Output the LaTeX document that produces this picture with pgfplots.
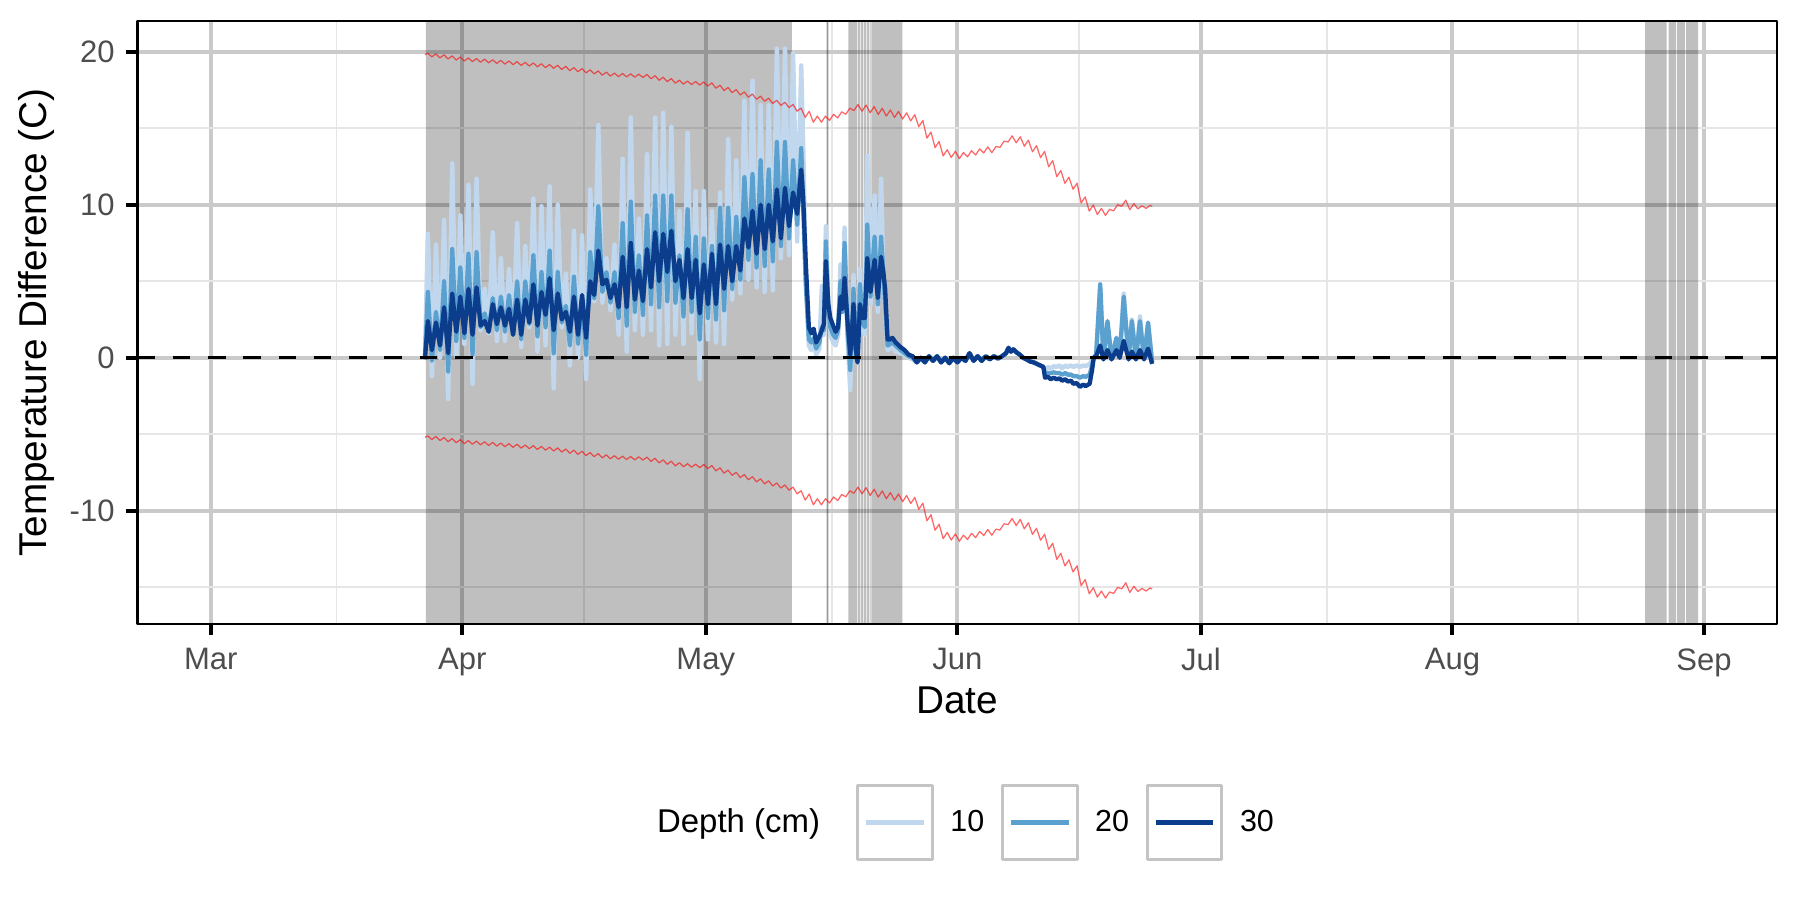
\documentclass[border=0pt]{standalone}
\usepackage{pgfplots}
\pgfplotsset{compat=1.18}
\usepackage{pgfplotstable}
\usepackage{fontspec}
\setmainfont{Liberation Sans}
\definecolor{cten}{HTML}{C1D7EE}
\definecolor{ctwenty}{HTML}{5BA1D0}
\definecolor{cthirty}{HTML}{0C3D8C}
\definecolor{gridmaj}{HTML}{CACACA}
\definecolor{gridmin}{HTML}{E6E6E6}
\definecolor{ticklab}{HTML}{4D4D4D}
\definecolor{keyborder}{HTML}{C4C4C4}

% days since 1 March; columns: 10 cm, 20 cm, 30 cm
\pgfplotstableread{
d L M D
26.40 0.0 0.0 -0.1
26.76 8.1 4.3 2.4
27.26 -1.2 -0.2 0.5
27.76 7.4 3.0 2.3
28.26 0.0 0.5 0.8
28.76 9.0 5.0 3.3
29.26 -2.7 -0.9 0.3
29.76 12.7 7.1 4.2
30.26 0.1 1.1 1.7
30.76 9.3 5.9 4.0
31.26 0.9 1.3 1.6
31.76 11.3 6.8 4.5
32.26 -1.7 0.2 1.5
32.76 11.7 6.9 4.6
33.26 1.8 2.0 2.1
33.76 4.5 2.9 2.4
34.26 1.6 1.7 1.7
34.76 8.2 3.9 3.5
35.26 1.1 1.8 2.2
35.76 6.5 4.0 3.3
36.26 1.1 1.7 2.1
36.76 5.8 4.1 3.2
37.26 1.6 1.5 1.5
37.76 8.8 5.0 3.8
38.26 0.7 1.2 1.5
38.76 7.3 5.0 3.8
39.26 2.0 2.2 2.3
39.76 10.4 6.7 4.8
40.26 0.4 1.4 2.1
40.76 9.9 5.6 4.3
41.26 0.8 2.0 2.8
41.76 11.2 7.0 5.2
42.26 -2.0 0.3 1.8
42.76 10.0 5.6 4.2
43.26 2.0 2.3 2.5
43.76 5.5 3.4 3.0
44.26 -0.5 0.8 1.7
44.76 8.3 5.3 4.0
45.26 0.0 0.9 1.5
45.76 8.0 4.0 4.1
46.26 -1.4 0.2 1.3
46.76 11.0 6.9 5.0
47.26 3.7 3.9 4.1
47.76 15.2 9.9 7.0
48.26 3.6 4.3 4.8
48.76 6.5 5.6 5.1
49.26 3.1 3.6 3.9
49.76 7.4 5.6 4.8
50.26 1.5 2.6 3.3
50.76 13.0 8.8 6.6
51.26 0.4 2.1 3.3
51.76 15.7 10.2 7.5
52.26 1.8 3.0 3.8
52.76 9.1 6.7 5.7
53.26 1.5 2.8 3.7
53.76 13.3 9.3 7.1
54.26 1.8 3.5 4.6
54.76 15.7 10.6 8.2
55.26 0.8 3.3 5.0
55.76 16.0 10.6 8.1
56.26 0.9 3.7 5.6
56.76 15.1 10.6 8.3
57.26 1.5 3.6 5.0
57.76 9.6 6.7 6.4
58.26 0.9 2.7 3.9
58.76 14.7 9.7 7.1
59.26 1.6 3.0 3.9
59.76 10.9 7.9 6.4
60.26 -1.4 1.2 2.9
60.76 10.9 7.8 6.1
61.26 1.2 2.6 3.5
61.76 9.6 7.3 6.8
62.26 1.0 2.5 3.5
62.76 10.8 9.8 7.4
63.26 0.9 3.1 4.5
63.76 14.3 9.8 7.3
64.26 3.8 4.5 5.0
64.76 12.9 9.2 7.3
65.26 4.2 5.1 5.7
65.76 16.8 11.8 9.1
66.26 5.1 6.4 7.2
66.76 18.1 12.0 9.6
67.26 4.6 5.9 6.8
67.76 16.5 12.9 10.0
68.26 4.3 6.0 7.1
68.76 16.5 12.3 10.0
69.26 4.4 6.3 7.6
69.76 20.2 14.1 11.0
70.26 6.5 7.3 7.8
70.76 20.2 14.1 11.1
71.26 6.7 7.8 8.6
71.76 19.9 12.9 10.8
72.26 7.6 8.7 9.4
72.76 19.1 13.7 12.3
73.00 14.0 10.0 10.5
73.30 6.0 5.0 6.5
73.70 0.8 1.2 2.0
74.00 0.5 1.0 1.6
74.30 1.0 1.3 1.9
74.60 0.2 0.6 1.0
75.00 0.6 1.0 1.4
75.30 4.7 2.0 1.8
75.55 1.5 1.8 2.2
75.80 8.6 7.6 6.3
76.10 3.5 3.2 3.5
76.35 1.5 2.0 2.6
76.70 1.0 1.5 2.1
77.00 0.8 1.3 1.7
77.30 1.5 1.8 2.0
77.60 6.1 5.0 4.0
77.85 3.0 3.0 3.2
78.10 8.5 7.5 5.2
78.45 1.5 2.0 2.5
78.80 -2.1 -0.8 0.2
79.00 1.0 1.5 1.5
79.20 5.4 4.5 3.5
79.50 0.5 0.5 0.5
79.70 -0.3 -0.3 -0.3
80.00 5.8 4.8 3.5
80.30 2.0 2.3 2.6
80.60 1.5 2.0 2.6
80.90 13.2 8.7 6.5
81.30 3.5 4.0 4.3
81.80 10.6 7.9 6.4
82.20 3.0 3.5 3.9
82.60 11.7 7.9 6.6
82.90 5.0 5.5 5.5
83.10 3.0 3.5 4.5
83.40 0.5 0.8 1.2
83.70 0.6 0.9 1.2
84.00 0.7 1.0 1.3
84.40 0.4 0.8 1.0
85.00 0.3 0.5 0.7
85.50 0.2 0.3 0.5
86.00 0.0 0.1 0.2
86.50 -0.1 0.0 0.1
87.00 -0.3 -0.3 -0.3
87.50 0.0 0.0 0.0
88.00 -0.3 -0.3 -0.3
88.50 0.1 0.1 0.1
89.00 -0.2 -0.2 -0.2
89.50 0.1 0.1 0.1
90.00 -0.3 -0.3 -0.3
90.50 0.0 0.0 0.0
91.00 -0.35 -0.35 -0.35
91.50 0.0 0.0 0.0
92.00 -0.3 -0.3 -0.3
92.50 0.0 0.0 0.0
93.00 -0.2 -0.2 -0.2
93.50 0.3 0.3 0.3
94.00 -0.2 -0.2 -0.2
94.50 0.1 0.1 0.1
95.00 -0.2 -0.2 -0.2
95.50 0.1 0.1 0.1
96.00 -0.1 -0.1 -0.1
96.50 0.1 0.1 0.1
97.00 -0.05 -0.05 -0.05
97.50 0.1 0.1 0.1
98.00 0.3 0.3 0.3
98.30 0.65 0.65 0.65
98.60 0.4 0.4 0.4
98.90 0.55 0.55 0.55
99.30 0.35 0.35 0.35
99.70 0.2 0.2 0.2
100.10 0.0 0.0 0.0
100.50 -0.1 -0.1 -0.1
101.00 -0.25 -0.25 -0.25
101.40 -0.3 -0.3 -0.3
101.80 -0.4 -0.4 -0.4
102.20 -0.5 -0.5 -0.5
102.60 -0.6 -0.6 -0.6
102.80 -0.8 -1.1 -1.3
103.20 -0.6 -1.0 -1.25
103.50 -0.7 -1.0 -1.4
103.90 -0.55 -0.95 -1.3
104.20 -0.6 -1.0 -1.4
104.60 -0.5 -1.0 -1.35
104.90 -0.7 -1.1 -1.5
105.30 -0.5 -1.0 -1.4
105.60 -0.6 -1.1 -1.55
106.00 -0.5 -1.1 -1.5
106.30 -0.6 -1.2 -1.7
106.70 -0.5 -1.2 -1.65
107.10 -0.6 -1.3 -1.9
107.50 -0.5 -1.2 -1.75
107.80 -0.55 -1.25 -1.85
108.30 -0.4 -1.1 -1.7
108.60 -0.2 -0.5 -0.8
108.80 0.0 0.0 0.0
109.10 0.2 0.2 0.1
109.60 4.6 4.8 0.8
110.00 -0.1 -0.1 -0.1
110.50 2.2 2.4 0.5
111.00 -0.1 -0.1 -0.1
111.60 1.3 1.3 0.5
112.00 0.0 0.0 0.0
112.50 4.2 4.0 1.1
113.10 -0.1 -0.1 -0.1
113.50 2.5 2.4 0.4
114.00 -0.1 -0.1 -0.1
114.50 2.7 2.4 0.5
115.00 -0.1 -0.1 -0.1
115.50 2.2 2.3 0.6
116.00 -0.3 -0.3 -0.4
}\depthtab

% red limit lines: upper and lower
\pgfplotstableread{
d up lo
26.40 19.80 -5.20
26.75 19.90 -5.10
27.25 19.66 -5.34
27.75 19.86 -5.14
28.25 19.59 -5.41
28.75 19.79 -5.21
29.25 19.52 -5.48
29.75 19.72 -5.28
30.25 19.45 -5.55
30.75 19.65 -5.35
31.25 19.39 -5.61
31.75 19.59 -5.41
32.25 19.35 -5.65
32.75 19.55 -5.45
33.25 19.31 -5.69
33.75 19.51 -5.49
34.25 19.27 -5.73
34.75 19.47 -5.53
35.25 19.23 -5.77
35.75 19.43 -5.57
36.25 19.19 -5.81
36.75 19.39 -5.61
37.25 19.15 -5.85
37.75 19.35 -5.65
38.25 19.10 -5.90
38.75 19.30 -5.70
39.25 19.06 -5.94
39.75 19.26 -5.74
40.25 19.01 -5.99
40.75 19.21 -5.79
41.25 18.96 -6.04
41.75 19.16 -5.84
42.25 18.91 -6.09
42.75 19.11 -5.89
43.25 18.84 -6.16
43.75 19.04 -5.96
44.25 18.76 -6.24
44.75 18.96 -6.04
45.25 18.69 -6.31
45.75 18.89 -6.11
46.25 18.61 -6.39
46.75 18.81 -6.19
47.25 18.54 -6.46
47.75 18.74 -6.26
48.25 18.46 -6.54
48.75 18.66 -6.34
49.25 18.40 -6.60
49.75 18.60 -6.40
50.25 18.37 -6.63
50.75 18.57 -6.43
51.25 18.35 -6.65
51.75 18.55 -6.45
52.25 18.33 -6.67
52.75 18.53 -6.47
53.25 18.31 -6.69
53.75 18.51 -6.49
54.25 18.23 -6.77
54.75 18.43 -6.57
55.25 18.13 -6.87
55.75 18.33 -6.67
56.25 18.04 -6.96
56.75 18.24 -6.76
57.25 17.94 -7.06
57.75 18.14 -6.86
58.25 17.88 -7.12
58.75 18.08 -6.92
59.25 17.85 -7.15
59.75 18.05 -6.95
60.25 17.82 -7.18
60.75 18.02 -6.98
61.25 17.76 -7.24
61.75 17.96 -7.04
62.25 17.61 -7.39
62.75 17.81 -7.19
63.25 17.46 -7.54
63.75 17.66 -7.34
64.25 17.32 -7.68
64.75 17.52 -7.48
65.25 17.17 -7.83
65.75 17.37 -7.63
66.25 17.03 -7.97
66.75 17.23 -7.77
67.25 16.89 -8.11
67.75 17.09 -7.91
68.25 16.76 -8.24
68.75 16.96 -8.04
69.25 16.62 -8.38
69.75 16.82 -8.18
70.25 16.49 -8.51
70.75 16.69 -8.31
71.25 16.35 -8.65
71.75 16.55 -8.45
72.25 16.11 -8.89
72.75 16.31 -8.69
73.25 15.70 -9.30
73.75 16.10 -8.90
74.25 15.39 -9.61
74.75 15.79 -9.21
75.25 15.39 -9.61
75.75 15.79 -9.21
76.25 15.51 -9.49
76.75 15.91 -9.09
77.25 15.67 -9.33
77.75 16.07 -8.93
78.25 15.91 -9.09
78.75 16.31 -8.69
79.25 16.15 -8.85
79.75 16.55 -8.45
80.25 16.11 -8.89
80.75 16.51 -8.49
81.25 16.01 -8.99
81.75 16.41 -8.59
82.25 15.90 -9.10
82.75 16.30 -8.70
83.25 15.79 -9.21
83.75 16.19 -8.81
84.25 15.70 -9.30
84.75 16.10 -8.90
85.25 15.60 -9.40
85.75 16.00 -9.00
86.25 15.48 -9.52
86.75 15.88 -9.12
87.25 15.10 -9.90
87.75 15.50 -9.50
88.25 14.35 -10.65
88.75 14.75 -10.25
89.25 13.73 -11.27
89.75 14.13 -10.87
90.25 13.19 -11.81
90.75 13.59 -11.41
91.25 13.09 -11.91
91.75 13.49 -11.51
92.25 13.01 -11.99
92.75 13.41 -11.59
93.25 13.13 -11.87
93.75 13.53 -11.47
94.25 13.25 -11.75
94.75 13.65 -11.35
95.25 13.38 -11.62
95.75 13.78 -11.22
96.25 13.40 -11.60
96.75 13.80 -11.20
97.25 13.75 -11.25
97.75 14.15 -10.85
98.25 14.10 -10.90
98.75 14.50 -10.50
99.25 14.04 -10.96
99.75 14.44 -10.56
100.25 13.82 -11.18
100.75 14.22 -10.78
101.25 13.46 -11.54
101.75 13.86 -11.14
102.25 13.08 -11.92
102.75 13.48 -11.52
103.25 12.48 -12.52
103.75 12.88 -12.12
104.25 11.83 -13.17
104.75 12.23 -12.77
105.25 11.40 -13.60
105.75 11.80 -13.20
106.25 11.01 -13.99
106.75 11.41 -13.59
107.25 10.11 -14.89
107.75 10.51 -14.49
108.25 9.58 -15.42
108.75 9.98 -15.02
109.25 9.36 -15.64
109.75 9.76 -15.24
110.25 9.30 -15.70
110.75 9.70 -15.30
111.25 9.60 -15.40
111.75 10.00 -15.00
112.25 9.90 -15.10
112.75 10.30 -14.70
113.25 9.67 -15.33
113.75 10.07 -14.93
114.25 9.73 -15.27
114.75 9.93 -15.07
115.25 9.76 -15.24
115.75 9.96 -15.04
116.00 9.90 -15.10
}\limittab

\begin{document}
\begin{tikzpicture}
\useasboundingbox (0,0) rectangle (650.4pt,325.2pt);
\begin{axis}[
  at={(49.68pt,99.7pt)}, anchor=south west,
  scale only axis, width=592.4pt, height=217.9pt,
  xmin=-9.02, xmax=192.99, ymin=-17.4, ymax=22.0,
  axis line style={black, line width=0.75pt},
  xtick={0,31,61,92,122,153,184},
  xticklabels={Mar,Apr,May,Jun,Jul,Aug,Sep},
  minor xtick={15.5,46,76.5,107,137.5,168.5},
  ytick={-10,0,10,20},
  yticklabels={-10,0,10,20},
  minor ytick={-15,-5,5,15},
  grid=both,
  major grid style={draw=gridmaj, line width=1.45pt},
  minor grid style={draw=gridmin, line width=0.7pt},
  tick align=outside,
  tick pos=left,
  major tick length=4pt,
  minor tick length=0pt,
  major tick style={black, line width=1.45pt},
  tick label style={font=\fontsize{11.2}{13.4}\selectfont, text=ticklab},
  xticklabel style={anchor=north, inner sep=0pt, yshift=-4.6pt},
  yticklabel style={anchor=east, inner sep=0pt, xshift=-4.1pt},
  xlabel={Date},
  ylabel={Temperature Difference (C)},
  label style={font=\fontsize{14}{16.8}\selectfont, inner sep=0pt},
  xlabel style={at={(axis description cs:0.5,-0.1257)}, anchor=center},
  ylabel style={at={(axis description cs:-0.0614,0.5)}, anchor=center},
  legend style={at={(axis description cs:0.5,-0.329)}, anchor=center,
    draw=none, fill=none, inner sep=0pt, column sep=6pt,
    font=\fontsize{11}{13.2}\selectfont, nodes={inner sep=0pt}},
  legend columns=-1,
  legend image code/.code={
    \draw[draw=keyborder, line width=1.1pt, fill=white] (0pt,-13.4pt) rectangle (27pt,13.4pt);
    \draw[#1] (3.1pt,0pt) -- (23.9pt,0pt);
  },
  line join=round,
]
% shaded periods
\addplot[fill=black, fill opacity=0.25, draw=none, forget plot] coordinates {(26.5,-30) (26.5,30) (71.6,30) (71.6,-30) (26.5,-30)};
\addplot[fill=black, fill opacity=0.4, draw=none, forget plot] coordinates {(75.9,-30) (75.9,30) (76.12,30) (76.12,-30) (75.9,-30)};
\addplot[fill=black, fill opacity=0.25, draw=none, forget plot] coordinates {(78.57,-30) (78.57,30) (79.68,30) (79.68,-30) (78.57,-30)};
\addplot[fill=black, fill opacity=0.25, draw=none, forget plot] coordinates {(79.76,-30) (79.76,30) (80.0,30) (80.0,-30) (79.76,-30)};
\addplot[fill=black, fill opacity=0.25, draw=none, forget plot] coordinates {(80.08,-30) (80.08,30) (80.42,30) (80.42,-30) (80.08,-30)};
\addplot[fill=black, fill opacity=0.25, draw=none, forget plot] coordinates {(80.5,-30) (80.5,30) (80.79,30) (80.79,-30) (80.5,-30)};
\addplot[fill=black, fill opacity=0.25, draw=none, forget plot] coordinates {(80.87,-30) (80.87,30) (81.11,30) (81.11,-30) (80.87,-30)};
\addplot[fill=black, fill opacity=0.25, draw=none, forget plot] coordinates {(81.19,-30) (81.19,30) (81.32,30) (81.32,-30) (81.19,-30)};
\addplot[fill=black, fill opacity=0.25, draw=none, forget plot] coordinates {(81.4,-30) (81.4,30) (85.21,30) (85.21,-30) (81.4,-30)};
\addplot[fill=black, fill opacity=0.25, draw=none, forget plot] coordinates {(176.73,-30) (176.73,30) (179.4,30) (179.4,-30) (176.73,-30)};
\addplot[fill=black, fill opacity=0.25, draw=none, forget plot] coordinates {(179.65,-30) (179.65,30) (180.55,30) (180.55,-30) (179.65,-30)};
\addplot[fill=black, fill opacity=0.25, draw=none, forget plot] coordinates {(180.67,-30) (180.67,30) (181.65,30) (181.65,-30) (180.67,-30)};
\addplot[fill=black, fill opacity=0.25, draw=none, forget plot] coordinates {(181.78,-30) (181.78,30) (183.26,30) (183.26,-30) (181.78,-30)};

\addlegendimage{empty legend}
\addlegendentry{\fontsize{11.9}{14}\selectfont Depth (cm)\kern 7pt}

\addplot[cten, line width=1.6pt] table[x=d, y=L] {\depthtab};
\addlegendentry{10}
\addplot[ctwenty, line width=1.55pt] table[x=d, y=M] {\depthtab};
\addlegendentry{20}
\addplot[cthirty, line width=1.55pt] table[x=d, y=D] {\depthtab};
\addlegendentry{30}

\addplot[red, draw opacity=0.6, line width=0.45pt, forget plot] table[x=d, y=up] {\limittab};
\addplot[red, draw opacity=0.6, line width=0.45pt, forget plot] table[x=d, y=lo] {\limittab};

\addplot[black, line width=1.2pt, dash pattern=on 6.3pt off 6.45pt, forget plot] coordinates {(-9.02,0) (192.99,0)};
\end{axis}
\end{tikzpicture}
\end{document}
